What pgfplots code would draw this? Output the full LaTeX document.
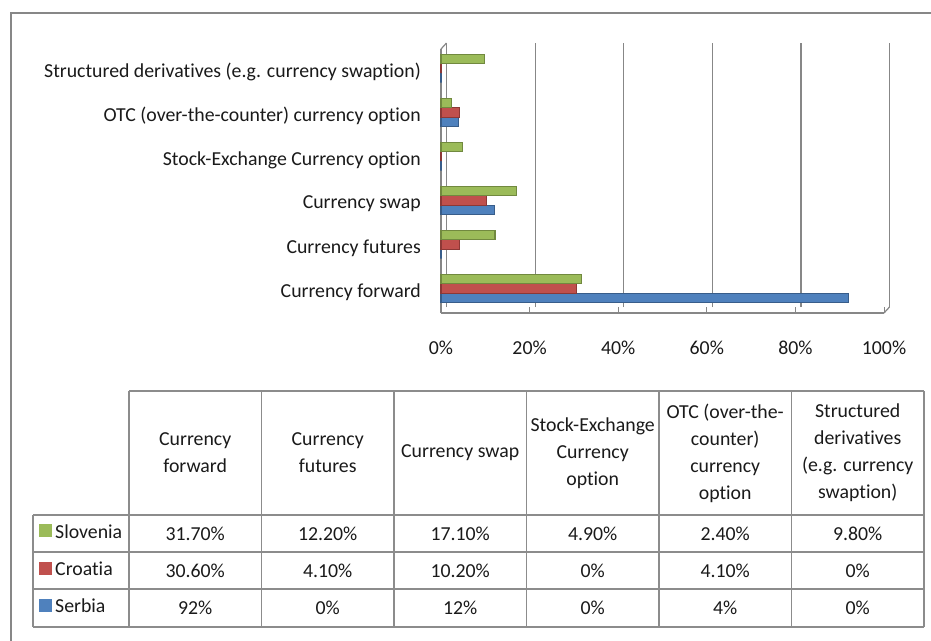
\documentclass[border=0pt]{standalone}
\usepackage{pgfplots}
\pgfplotsset{compat=1.18}
\usepackage{fontspec}
\setmainfont{Carlito}[Ligatures={NoCommon}]
\definecolor{serbF}{HTML}{4F81BD}
\definecolor{serbD}{HTML}{385D8A}
\definecolor{croF}{HTML}{C0504D}
\definecolor{croD}{HTML}{8C3836}
\definecolor{sloF}{HTML}{9BBB59}
\definecolor{sloD}{HTML}{71893F}
\definecolor{framegray}{HTML}{878787}
\definecolor{tgray}{HTML}{8C8C8C}
\definecolor{txt}{HTML}{1A1A1A}
\newcommand{\cf}{\fontsize{19.8bp}{27bp}\selectfont}
\pgfplotstableread{
y serbia croatia slovenia
0 92 30.6 31.7
1 0 4.1 12.2
2 12 10.2 17.1
3 0 0 4.9
4 4 4.1 2.4
5 0 0 9.8
}\datatab
\begin{document}
\begin{tikzpicture}
\begin{scope}[x=1bp,y=-1bp]
\useasboundingbox (0,0) rectangle (931,641);
\fill[white] (0,0) rectangle (931,641);
\draw[framegray, line width=2bp] (11,641) -- (11,13) -- (931,13);
% table grid
\begin{scope}[draw=tgray, line width=1.5bp]
\draw (129,391) -- (924,391);
\foreach \xx in {129,261.5,394,526.5,659,791.5,924} \draw (\xx,391) -- (\xx,627);
\foreach \yy in {515,552,589,627} \draw (33,\yy) -- (924,\yy);
\draw (33,515) -- (33,627);
\end{scope}
\begin{scope}[every node/.style={font=\cf, text=txt, align=center, inner sep=0pt}]
\node at (195.2,453) {Currency\\forward};
\node at (327.7,453) {Currency\\futures};
\node at (460.2,453) {Currency swap};
\node at (592.7,453) {Stock-Exchange\\Currency\\option};
\node at (725.2,453) {OTC (over-the-\\counter)\\currency\\option};
\node at (857.7,453) {Structured\\derivatives\\(e.g. currency\\swaption)};
% legend cells
\fill[sloF] (39,523.5) rectangle (52,536.5);
\fill[croF] (39,561.5) rectangle (52,574.5);
\fill[serbF] (39,598.5) rectangle (52,611.5);
\node[anchor=west] at (55,532) {Slovenia};
\node[anchor=west] at (55,569) {Croatia};
\node[anchor=west] at (55,605.5) {Serbia};
% values
\foreach \cx/\a/\b/\c in {195.2/31.70\%/30.60\%/92\%, 327.7/12.20\%/4.10\%/0\%, 460.2/17.10\%/10.20\%/12\%, 592.7/4.90\%/0\%/0\%, 725.2/2.40\%/4.10\%/4\%, 857.7/9.80\%/0\%/0\%}{
\node at (\cx,533.5) {\a};
\node at (\cx,570.5) {\b};
\node at (\cx,607.5) {\c};
}
\end{scope}
\end{scope}
\begin{axis}[at={(441bp,-313bp)}, anchor=south west, scale only axis,
 width=443bp, height=264bp,
 xmin=0, xmax=100, ymin=-0.557, ymax=5.443,
 xbar=0pt, bar width=9.5bp,
 axis x line*=bottom, axis y line*=left,
 axis line style={draw=framegray, line width=1.2bp, -},
 xtick={0,20,40,60,80,100}, ytick={0,1,2,3,4,5},
 yticklabels={Currency forward, Currency futures, Currency swap, Stock-Exchange Currency option, OTC (over-the-counter) currency option, Structured derivatives (e.g. currency swaption)},
 xticklabel={\pgfmathprintnumber{\tick}\%},
 /pgf/number format/assume math mode=true,
 tick label style={font=\cf, text=txt},
 xticklabel style={anchor=center, inner sep=0pt, yshift=-35bp},
 yticklabel style={anchor=east, inner sep=0pt, xshift=-20bp, yshift=-3.5bp},
 xmajorgrids, major grid style={draw=framegray, line width=1.2bp, xshift=5.5bp, yshift=6bp},
 tick align=inside, major tick length=6bp,
 xtick style={draw=framegray, line width=1bp},
 ytick style={draw=none},
 clip=false,
]
\addplot[fill=serbF, draw=serbD, line width=1.2bp] table[x=serbia, y=y] {\datatab};
\addplot[fill=croF, draw=croD, line width=1.2bp] table[x=croatia, y=y] {\datatab};
\addplot[fill=sloF, draw=sloD, line width=1.2bp] table[x=slovenia, y=y] {\datatab};
\draw[framegray, line width=1.2bp] (rel axis cs:0,1) -- ++(5.5bp,6bp);
\draw[framegray, line width=1.2bp] (rel axis cs:1,0) -- ++(5.5bp,6bp);
\end{axis}
\end{tikzpicture}
\end{document}
